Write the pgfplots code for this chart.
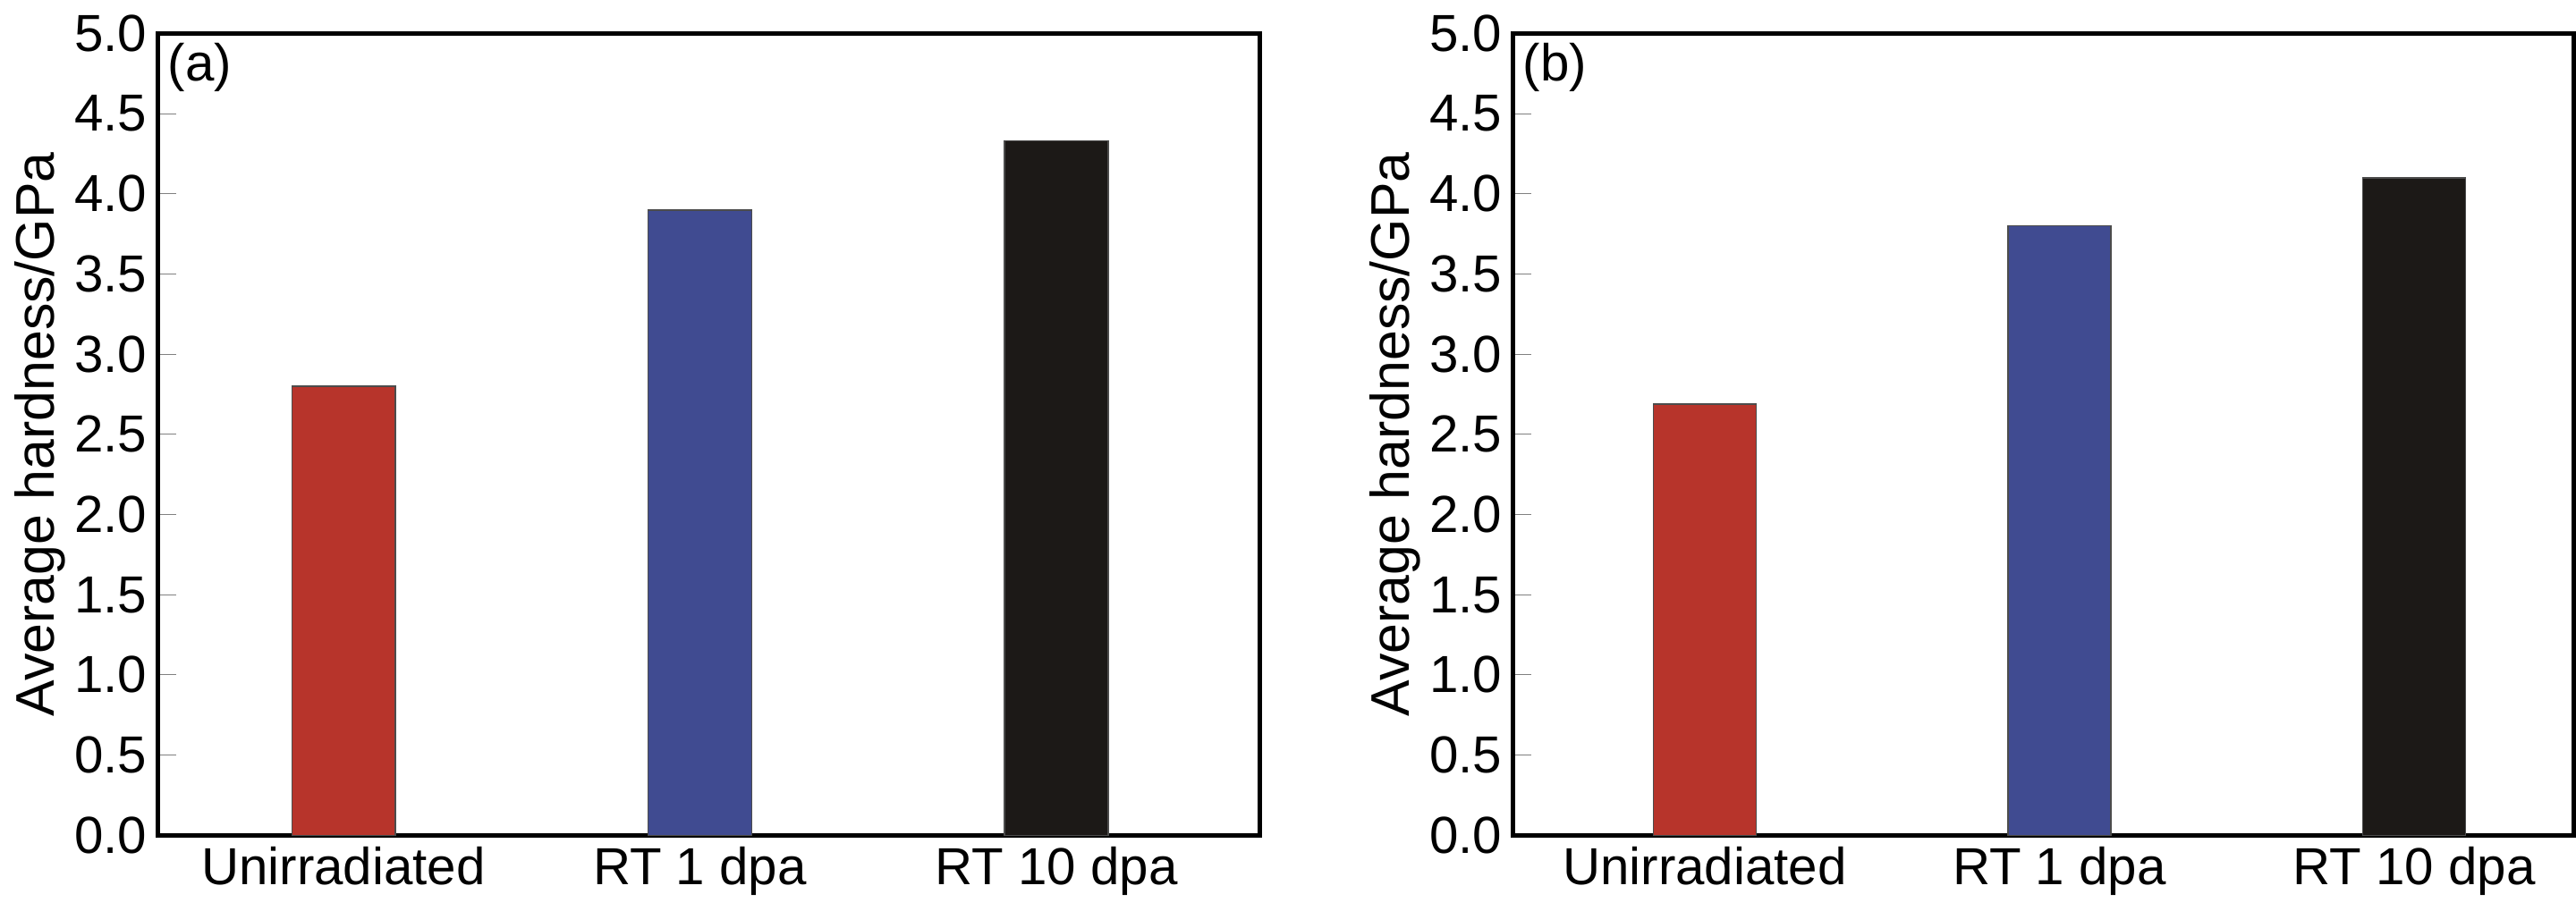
\documentclass[border=0pt]{standalone}
\usepackage{pgfplots}
\pgfplotsset{compat=1.18}
\usepackage{fontspec}
\setmainfont{Liberation Sans}
\definecolor{cr}{RGB}{183,52,43}
\definecolor{cb}{RGB}{64,75,145}
\definecolor{ck}{RGB}{28,25,23}
\pgfplotsset{myax/.style={
 scale only axis, height=177pt, ymin=0, ymax=5,
 ytick={0,0.5,...,5}, /pgf/number format/assume math mode=true,
 /pgf/number format/fixed, /pgf/number format/fixed zerofill, /pgf/number format/precision=1,
 xtick={0,1,2}, xticklabels={Unirradiated,RT 1 dpa,RT 10 dpa},
 tick label style={font=\fontsize{11.5}{12}\selectfont},
 yticklabel style={xshift=1pt},
 ylabel={Average hardness/GPa}, ylabel style={font=\fontsize{12}{13}\selectfont, yshift=-5pt},
 tick align=inside, ytick pos=left, xtick style={draw=none},
 major tick length=4pt, axis line style={line width=1pt},
 every axis plot/.append style={ybar, bar width=0.29, draw=black!70, line width=0.3pt},
 xticklabel style={yshift=1pt},
}}
\begin{document}
\begin{tikzpicture}
\begin{axis}[myax, at={(0,0)}, width=243pt, xmin=-0.52, xmax=2.57]
\addplot[fill=cr] coordinates {(0,2.80)};
\addplot[fill=cb] coordinates {(1,3.90)};
\addplot[fill=ck] coordinates {(2,4.33)};
\node[anchor=north west, inner sep=2pt, font=\fontsize{11.5}{12}\selectfont] at (rel axis cs:0,1) {(a)};
\end{axis}
\begin{axis}[myax, at={(299pt,0)}, width=234pt, xmin=-0.54, xmax=2.45]
\addplot[fill=cr] coordinates {(0,2.69)};
\addplot[fill=cb] coordinates {(1,3.80)};
\addplot[fill=ck] coordinates {(2,4.10)};
\node[anchor=north west, inner sep=2pt, font=\fontsize{11.5}{12}\selectfont] at (rel axis cs:0,1) {(b)};
\end{axis}
\end{tikzpicture}
\end{document}
